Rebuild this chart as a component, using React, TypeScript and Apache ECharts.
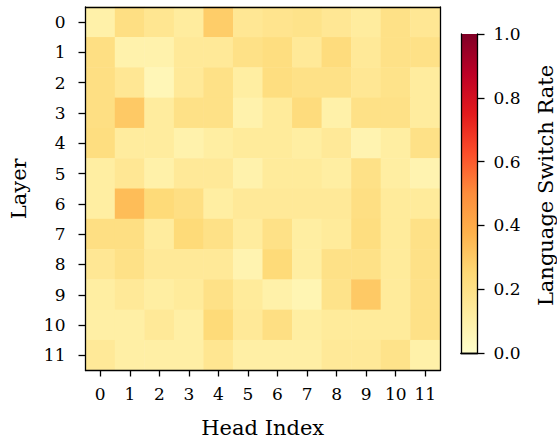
import React, { useEffect, useRef } from "react";
import * as echarts from "echarts";

const heads = ["0", "1", "2", "3", "4", "5", "6", "7", "8", "9", "10", "11"];
const layers = ["0", "1", "2", "3", "4", "5", "6", "7", "8", "9", "10", "11"];
const switchRate: number[][] = [
  [0.1, 0.21, 0.17, 0.13, 0.29, 0.16, 0.18, 0.19, 0.16, 0.13, 0.2, 0.16],
  [0.21, 0.09, 0.09, 0.15, 0.15, 0.2, 0.22, 0.15, 0.23, 0.15, 0.2, 0.2],
  [0.21, 0.16, 0.06, 0.15, 0.2, 0.12, 0.22, 0.2, 0.2, 0.16, 0.19, 0.13],
  [0.21, 0.3, 0.13, 0.2, 0.2, 0.09, 0.14, 0.23, 0.1, 0.2, 0.2, 0.13],
  [0.22, 0.13, 0.13, 0.09, 0.12, 0.14, 0.14, 0.12, 0.15, 0.08, 0.12, 0.2],
  [0.12, 0.16, 0.1, 0.15, 0.15, 0.09, 0.14, 0.14, 0.12, 0.2, 0.12, 0.08],
  [0.12, 0.34, 0.24, 0.21, 0.12, 0.15, 0.15, 0.15, 0.15, 0.21, 0.14, 0.14],
  [0.21, 0.21, 0.13, 0.24, 0.2, 0.13, 0.2, 0.12, 0.14, 0.22, 0.14, 0.2],
  [0.16, 0.2, 0.15, 0.15, 0.15, 0.08, 0.24, 0.12, 0.2, 0.2, 0.14, 0.2],
  [0.12, 0.15, 0.12, 0.14, 0.2, 0.14, 0.1, 0.07, 0.19, 0.3, 0.14, 0.2],
  [0.11, 0.11, 0.15, 0.11, 0.24, 0.15, 0.21, 0.12, 0.14, 0.14, 0.14, 0.2],
  [0.15, 0.11, 0.11, 0.11, 0.17, 0.11, 0.11, 0.11, 0.15, 0.15, 0.19, 0.1],
];
const colorbarTicks = [0, 0.2, 0.4, 0.6, 0.8, 1.0];
const ylOrRd = ["#ffffcc", "#ffeda0", "#fed976", "#feb24c", "#fd8d3c", "#fc4e2a", "#e31a1c", "#bd0026", "#800026"];

const FONT = "DejaVu Serif";

export default function App() {
  const ref = useRef<HTMLDivElement>(null);
  useEffect(() => {
    if (!ref.current) return;
    const chart = echarts.init(ref.current, null, { renderer: "svg" });
    const data: number[][] = [];
    switchRate.forEach((row, li) => row.forEach((v, hi) => data.push([hi, li, v])));
    const stops = ylOrRd.map((c, i) => ({ offset: i / (ylOrRd.length - 1), color: c }));
    const axisLabelStyle = { fontFamily: FONT, fontSize: 17, color: "#000" };
    const nameStyle = { fontFamily: FONT, fontSize: 21, color: "#000" };
    const lineStyle = { color: "#000", width: 1.3 };
    chart.setOption({
      animation: false,
      backgroundColor: "#fff",
      grid: [
        { left: 81, top: 7, width: 359, height: 373 },
        { left: 461, top: 34, width: 17, height: 319 },
      ],
      xAxis: [
        {
          gridIndex: 0, type: "category", data: heads, z: 10,
          axisLine: { show: true, lineStyle },
          axisTick: { show: true, alignWithLabel: true, interval: 0, length: 6, lineStyle },
          axisLabel: { ...axisLabelStyle, margin: 15, interval: 0, hideOverlap: false },
          name: "Head Index", nameLocation: "middle", nameGap: 57,
          nameTextStyle: { ...nameStyle, verticalAlign: "middle" },
        },
        {
          gridIndex: 0, type: "category", data: heads, position: "top", z: 10,
          axisLine: { show: true, lineStyle }, axisTick: { show: false }, axisLabel: { show: false },
        },
        {
          gridIndex: 1, type: "category", data: ["cb"], z: 10,
          axisLine: { show: true, lineStyle }, axisTick: { show: false }, axisLabel: { show: false },
        },
        {
          gridIndex: 1, type: "category", data: ["cb"], position: "top", z: 10,
          axisLine: { show: true, lineStyle }, axisTick: { show: false }, axisLabel: { show: false },
        },
      ],
      yAxis: [
        {
          gridIndex: 0, type: "category", data: layers, inverse: true, z: 10,
          axisLine: { show: true, lineStyle },
          axisTick: { show: true, alignWithLabel: true, interval: 0, length: 7, lineStyle },
          axisLabel: { ...axisLabelStyle, margin: 20, interval: 0 },
          name: "Layer", nameLocation: "middle", nameGap: 67, nameRotate: 90,
          nameTextStyle: { ...nameStyle, verticalAlign: "middle" },
        },
        {
          gridIndex: 0, type: "category", data: layers, inverse: true, position: "right", z: 10,
          axisLine: { show: true, lineStyle }, axisTick: { show: false }, axisLabel: { show: false },
        },
        {
          gridIndex: 1, type: "value", min: 0, max: 1, interval: 0.2, position: "right", z: 10,
          axisLine: { show: true, lineStyle },
          axisTick: { show: true, length: 7, lineStyle },
          splitLine: { show: false },
          axisLabel: { ...axisLabelStyle, margin: 16, formatter: (v: number) => v.toFixed(1) },
          name: "Language Switch Rate", nameLocation: "middle", nameGap: 68, nameRotate: 90,
          nameTextStyle: { ...nameStyle, verticalAlign: "middle", padding: [0, 0, 0, 16] },
        },
        {
          gridIndex: 1, type: "value", min: 0, max: 1, position: "left", z: 10,
          axisLine: { show: true, lineStyle }, axisTick: { show: false }, axisLabel: { show: false },
          splitLine: { show: false },
        },
      ],
      visualMap: {
        show: false, type: "continuous", min: 0, max: 1, seriesIndex: 0, dimension: 2,
        inRange: { color: ylOrRd },
      },
      series: [
        {
          type: "heatmap", xAxisIndex: 0, yAxisIndex: 0, data,
          itemStyle: { borderWidth: 0 }, emphasis: { disabled: true },
        },
        {
          type: "bar", xAxisIndex: 2, yAxisIndex: 2, data: [colorbarTicks[colorbarTicks.length - 1]],
          barWidth: "100%", silent: true,
          itemStyle: { color: new echarts.graphic.LinearGradient(0, 1, 0, 0, stops) },
        },
      ],
    });
    return () => chart.dispose();
  }, []);
  return (
    <div
      ref={ref}
      style={{ position: "absolute", left: 0, top: 0, width: 557, height: 443 }}
    />
  );
}
